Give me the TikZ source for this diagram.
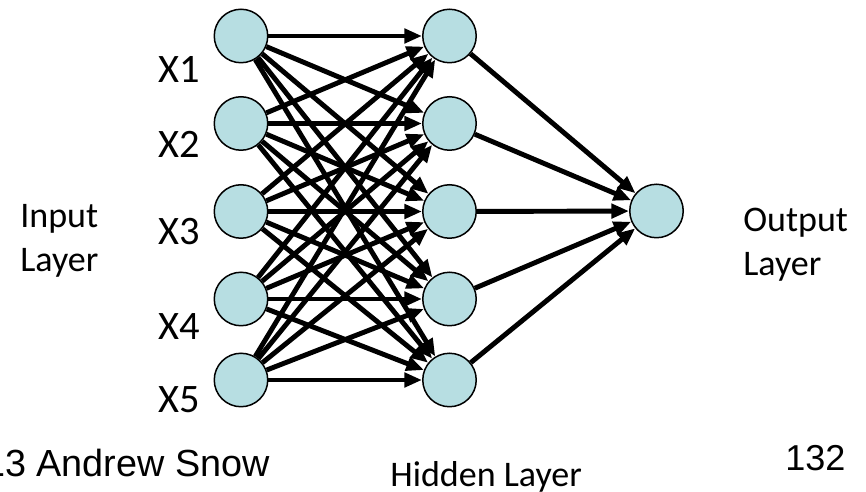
\documentclass[tikz,border=0pt]{standalone}
\usepackage{fontspec}
\setmainfont{Carlito}
\newfontfamily\arialfont{Liberation Sans}
\usepackage{tikz}
\usetikzlibrary{arrows.meta,positioning}
\definecolor{neuronfill}{RGB}{183,222,226}

\begin{document}
\begin{tikzpicture}[x=0.02cm, y=-0.02cm,
        neuron/.style={draw, circle, fill=neuronfill, line width=0.85pt, minimum size=1.07cm, inner sep=0pt},
        link/.style={line width=2.8pt, -{Triangle[length=10pt, width=8pt]}},
        xlabel/.style={font=\fontsize{23}{27}\selectfont, inner sep=0pt},
        layerlabel/.style={font=\fontsize{20.5}{25}\selectfont, align=left, inner sep=0pt, anchor=north west}
    ]
    \useasboundingbox (0,0) rectangle (866,492);
    % Camada de entrada
    \node[neuron] (in1) at (241,36) {};
    \node[neuron] (in2) at (241,123.5) {};
    \node[neuron] (in3) at (241,211.5) {};
    \node[neuron] (in4) at (241,299) {};
    \node[neuron] (in5) at (241,380) {};
    \node[xlabel] (x1) at (179,70) {X1};
    \node[xlabel] (x2) at (179,144) {X2};
    \node[xlabel] (x3) at (179,232) {X3};
    \node[xlabel] (x4) at (179,327) {X4};
    \node[xlabel] (x5) at (179,400) {X5};
    \node[layerlabel] (tin) at (20,204) {Input\\Layer};
    % Camada oculta
    \node[neuron] (hid1) at (449.5,36) {};
    \node[neuron] (hid2) at (449.5,123.5) {};
    \node[neuron] (hid3) at (449.5,211.5) {};
    \node[neuron] (hid4) at (449.5,299) {};
    \node[neuron] (hid5) at (449.5,380) {};
    \node[layerlabel] (thid) at (390,461) {Hidden Layer};
    % Camada de saida
    \node[neuron] (out) at (656.5,211) {};
    \node[layerlabel] (tout) at (743,208) {Output\\Layer};
    % Conexoes
    \foreach \i in {1,...,5}
        \foreach \j in {1,...,5}
            \draw[link] (in\i) -- (hid\j);
    \foreach \j in {1,...,5}
        \draw[link] (hid\j) -- (out);
    % Rodape
    \node[font=\arialfont\fontsize{21.5}{25}\selectfont, inner sep=0pt, anchor=north east] (autor) at (270,449) {13 Andrew Snow};
    \node[font=\arialfont\fontsize{20.5}{24}\selectfont, inner sep=0pt, anchor=north west] (pagina) at (785,445) {132};
\end{tikzpicture}
\end{document}
